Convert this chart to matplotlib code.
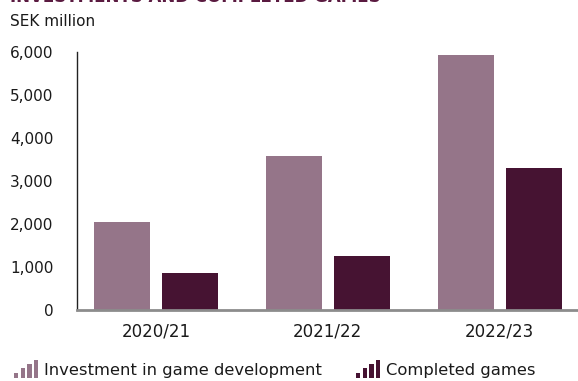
import numpy as np
import matplotlib.pyplot as plt
from matplotlib.legend_handler import HandlerBase
from matplotlib.patches import Rectangle

# SEK million per financial year
years = ['2020/21', '2021/22', '2022/23']
investment = [2040, 3590, 5930]
completed = [860, 1250, 3310]

light = '#957589'
dark = '#461332'
ink = '#1a1a1a'

plt.rcParams['font.family'] = ['DejaVu Sans']


class BarIconHandler(HandlerBase):
    # small rising bar-chart glyph used as the legend key (sizes in points)
    def create_artists(self, legend, orig_handle, xdescent, ydescent,
                       width, height, fontsize, trans):
        color = orig_handle.get_facecolor()
        bar_w, step, top = 3.0, 4.8, 13.0
        y0 = -ydescent - 2.5
        artists = []
        for i in range(4):
            h = top * (i + 1.3) / 4.3
            r = Rectangle((-xdescent + i * step, y0), bar_w, h,
                          facecolor=color, edgecolor='none', transform=trans)
            artists.append(r)
        return artists


fig = plt.figure(figsize=(5.78, 3.81), dpi=100)
ax = fig.add_axes([77 / 578, 1 - 310 / 381, 501 / 578, 258 / 381])

x = np.arange(len(years))
bw = 0.326
off = 0.198
b1 = ax.bar(x - off, investment, bw, color=light)
b2 = ax.bar(x + off, completed, bw, color=dark)

ax.set_xlim(-0.459, 2.455)
ax.set_ylim(0, 6000)
ax.set_yticks(range(0, 6001, 1000))
ax.set_yticklabels([f'{v:,}' for v in range(0, 6001, 1000)])
ax.set_xticks(x)
ax.set_xticklabels(years)

for s in ['top', 'right']:
    ax.spines[s].set_visible(False)
ax.spines['left'].set_color('#222222')
ax.spines['left'].set_linewidth(1.0)
ax.spines['bottom'].set_color('#8c8c8c')
ax.spines['bottom'].set_linewidth(2.0)
ax.tick_params(axis='both', length=0, colors=ink)
ax.tick_params(axis='y', pad=17, labelsize=11)
ax.tick_params(axis='x', pad=9, labelsize=12)

fig.text(10 / 578, 1 - 2.5 / 381, 'INVESTMENTS AND COMPLETED GAMES', fontsize=12,
         fontweight='bold', color='#5a1a40', ha='left', va='baseline')
fig.text(10 / 578, 1 - 21 / 381, 'SEK million', fontsize=11, color=ink,
         ha='left', va='center')

leg = fig.legend(handles=[b1.patches[0], b2.patches[0]],
                 labels=['Investment in game development', 'Completed games'],
                 loc='center left', bbox_to_anchor=(14 / 578, 1 - 370 / 381),
                 ncol=2, frameon=False, fontsize=11.8,
                 handler_map={Rectangle: BarIconHandler()},
                 handlelength=1.47, handleheight=0.7, handletextpad=0.35,
                 columnspacing=2.1, borderpad=0, borderaxespad=0)
for t in leg.get_texts():
    t.set_color(ink)

fig.savefig('out.png', dpi=100)
